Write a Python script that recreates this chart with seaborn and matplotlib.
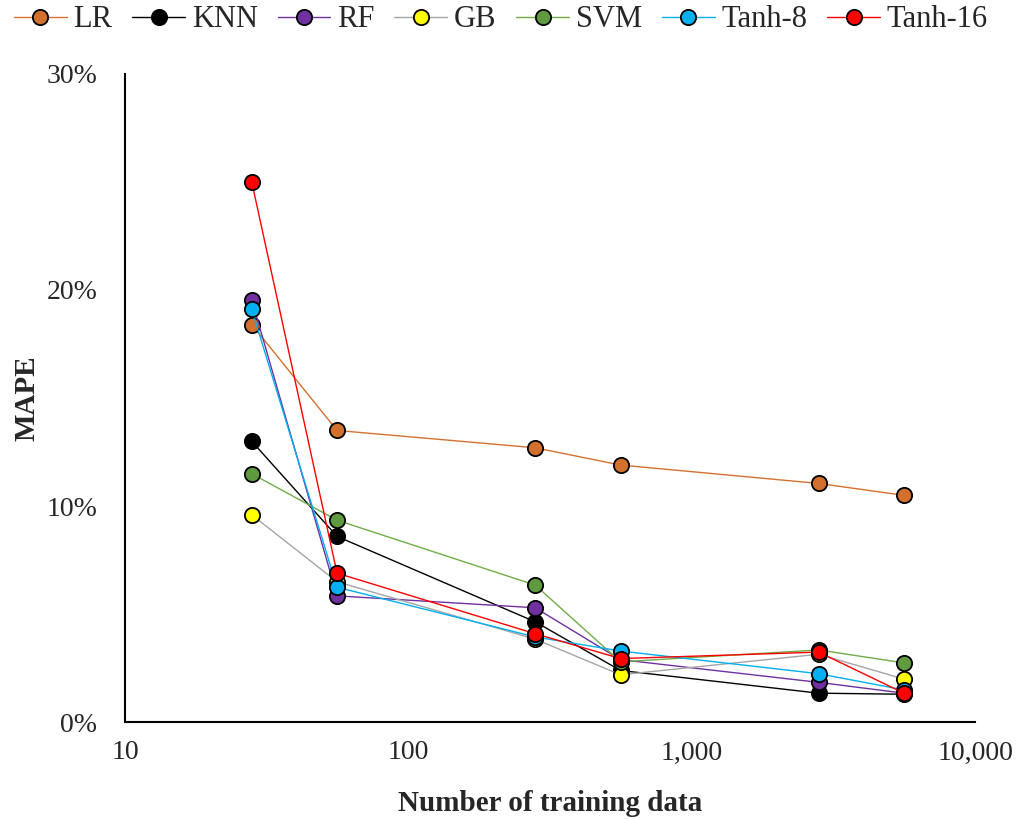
import matplotlib
matplotlib.use("Agg")
import matplotlib.pyplot as plt
import matplotlib.ticker as mticker
import seaborn as sns
import pandas as pd

# ---- data ----
training_sizes = [28, 56, 280, 560, 2800, 5600]
series_names = ["LR", "KNN", "RF", "GB", "SVM", "Tanh-8", "Tanh-16"]
lr = [18.4, 13.5, 12.7, 11.9, 11.05, 10.5]
knn = [13.0, 8.6, 4.65, 2.4, 1.35, 1.3]
rf = [19.55, 5.85, 5.3, 2.9, 1.85, 1.35]
gb = [9.6, 6.5, 3.85, 2.2, 3.15, 2.0]
svm = [11.5, 9.35, 6.35, 2.8, 3.35, 2.75]
tanh8 = [19.1, 6.25, 3.95, 3.3, 2.25, 1.5]
tanh16 = [25.0, 6.9, 4.1, 2.95, 3.25, 1.35]
x_tick_labels = ["10", "100", "1,000", "10,000"]

line_colors = ["#D4712F", "#000000", "#7030A0", "#A5A5A5", "#70AD47", "#00B0F0", "#FF0000"]
face_colors = ["#D2702E", "#000000", "#7030A0", "#FFFF00", "#5F9A40", "#00B0F0", "#FF0000"]

values = [lr, knn, rf, gb, svm, tanh8, tanh16]
frames = []
for name, vals in zip(series_names, values):
    frames.append(pd.DataFrame({"n": training_sizes, "mape": [v / 100 for v in vals], "model": name}))
df = pd.concat(frames, ignore_index=True)

sns.set_style("white")
plt.rcParams["font.family"] = ["Liberation Serif", "DejaVu Serif"]

fig = plt.figure(figsize=(10.16, 8.19), dpi=100)
ax = fig.add_axes([0.123, 0.118, 0.837, 0.792])

for i, name in enumerate(series_names):
    sub = df[df["model"] == name]
    sns.lineplot(data=sub, x="n", y="mape", ax=ax, color=line_colors[i],
                 linewidth=1.0, marker="o", markersize=11,
                 markerfacecolor=face_colors[i], markeredgecolor="black",
                 markeredgewidth=1.3, label=name, zorder=3 + i)

ax.set_xscale("log")
ax.set_xlim(10, 10000)
ax.set_ylim(0, 0.30)
ax.set_xticks([10, 100, 1000, 10000])
ax.set_xticklabels(x_tick_labels)
ax.xaxis.set_minor_locator(mticker.NullLocator())
ax.set_yticks([0, 0.1, 0.2, 0.3])
ax.yaxis.set_major_formatter(mticker.PercentFormatter(1.0, decimals=0))
ax.tick_params(axis="both", labelsize=20, length=0)
ax.tick_params(axis="x", pad=13)
ax.tick_params(axis="y", pad=20)

for s in ["top", "right"]:
    ax.spines[s].set_visible(False)
for s in ["left", "bottom"]:
    ax.spines[s].set_color("black")
    ax.spines[s].set_linewidth(1.5)
ax.grid(False)

ax.set_xlabel("Number of training data", fontsize=21, fontweight="bold", labelpad=18)
ax.set_ylabel("MAPE", fontsize=21, fontweight="bold", labelpad=4)

handles, labels = ax.get_legend_handles_labels()
ax.get_legend().remove()
fig.legend(handles, labels, loc="upper center", bbox_to_anchor=(0.493, 1.027), ncol=7,
           frameon=False, fontsize=22, handlelength=1.73, handletextpad=0.22,
           columnspacing=0.65, markerscale=1.0)

fig.savefig("out.png", dpi=100)
